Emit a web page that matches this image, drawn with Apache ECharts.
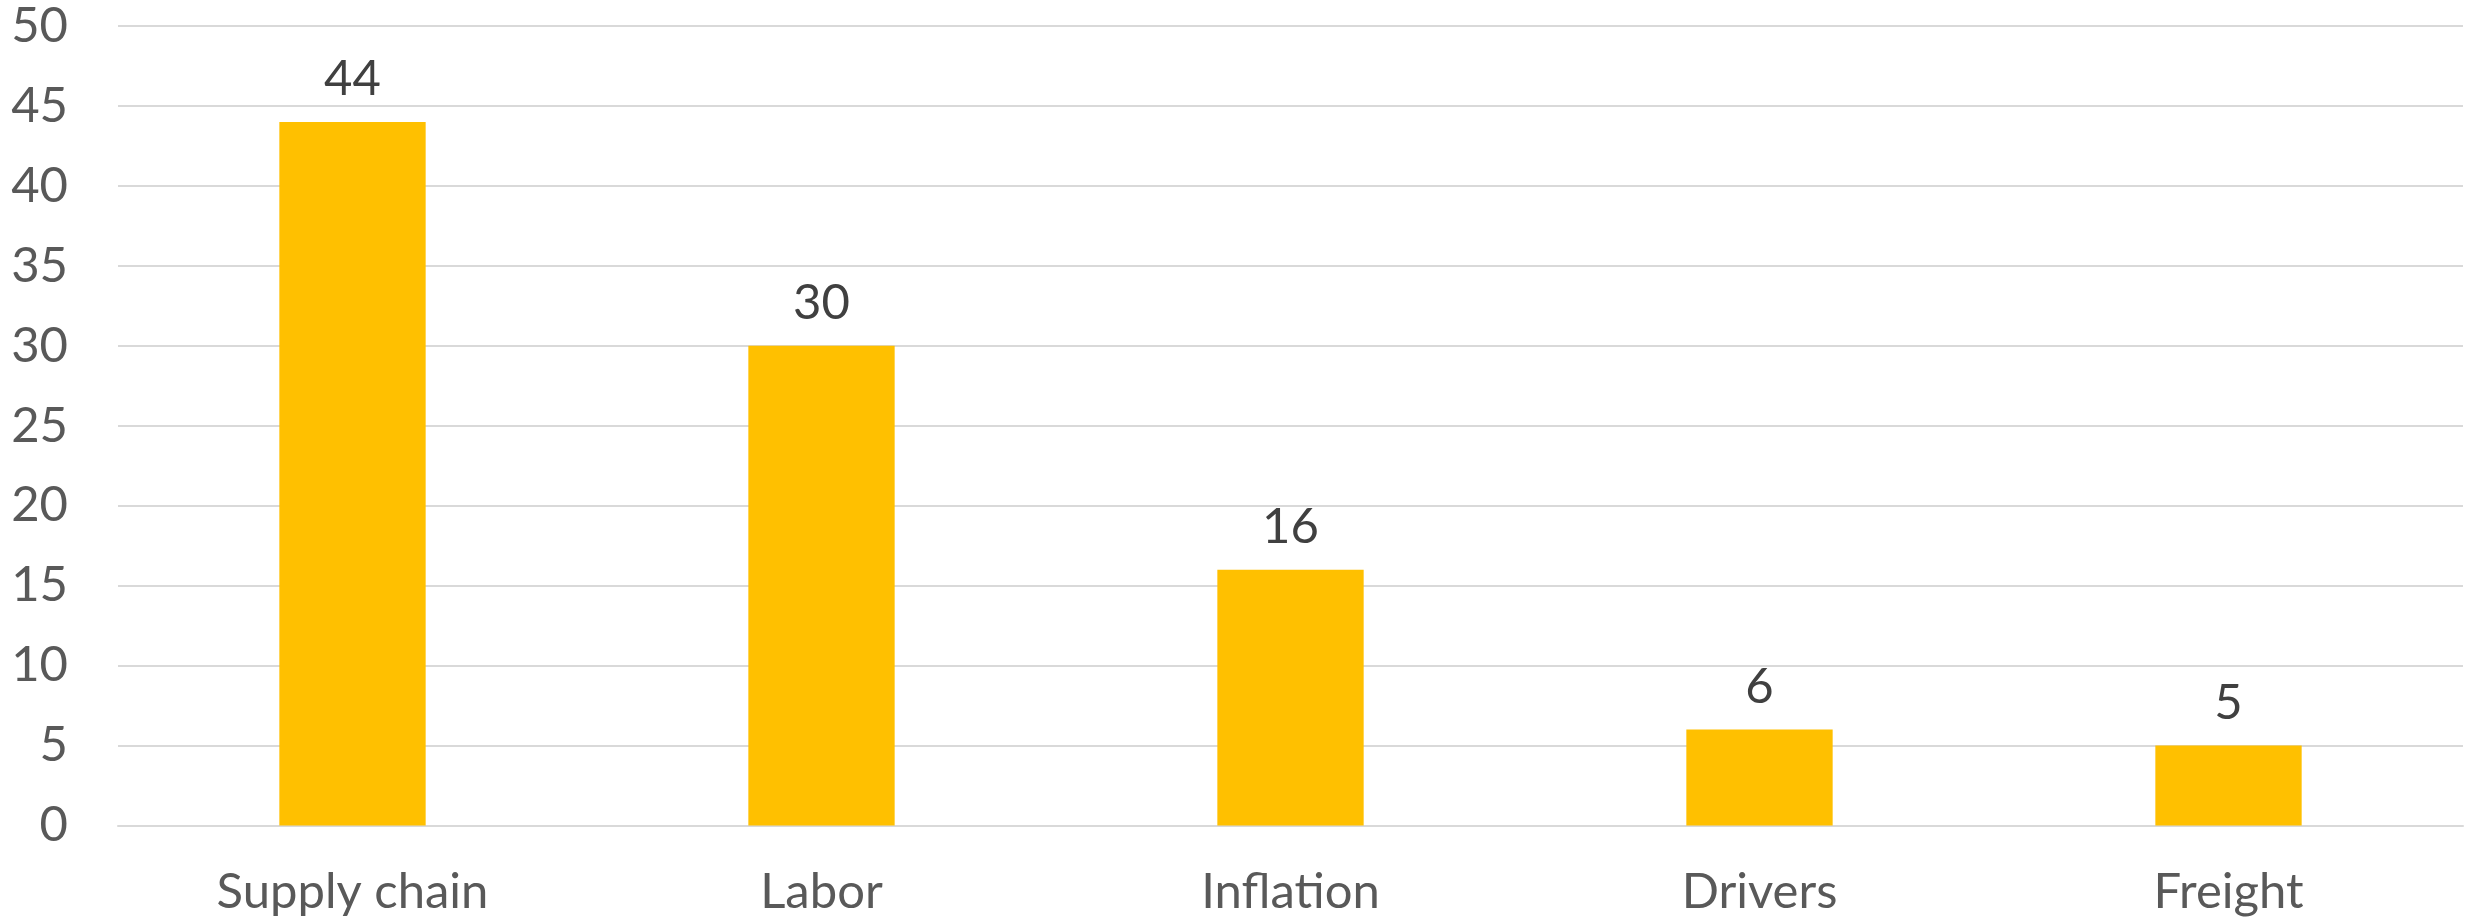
<!DOCTYPE html>
<html><head><meta charset="utf-8">
<script src="https://cdn.jsdelivr.net/npm/echarts@6/dist/echarts.min.js"></script>
<style>html,body{margin:0;padding:0;background:#fff}#c{width:2468px;height:921px}</style>
</head><body><div id="c"></div>
<script>
const categories = ["Supply chain", "Labor", "Inflation", "Drivers", "Freight"];
const values = [44, 30, 16, 6, 5];
const yTicks = [0, 5, 10, 15, 20, 25, 30, 35, 40, 45, 50];

const FONT = "Lato";
const chart = echarts.init(document.getElementById('c'), null, {renderer: 'canvas'});
chart.setOption({
  animation: false,
  backgroundColor: '#ffffff',
  grid: {left: 118, right: 5, top: 26, bottom: 95.5, containLabel: false},
  xAxis: {
    type: 'category', data: categories,
    axisLine: {show: true, lineStyle: {color: '#D9D9D9', width: 2}},
    axisTick: {show: false},
    axisLabel: {color: '#595959', fontFamily: FONT, fontSize: 49, margin: 42}
  },
  yAxis: {
    type: 'value', min: yTicks[0], max: yTicks[yTicks.length-1], interval: 5,
    axisLine: {show: false}, axisTick: {show: false},
    splitLine: {lineStyle: {color: '#D9D9D9', width: 2}},
    axisLabel: {color: '#595959', fontFamily: FONT, fontSize: 49, margin: 50, align: 'right'}
  },
  series: [{
    type: 'bar', data: values, barWidth: '31.2%',
    itemStyle: {color: '#FFC000'},
    label: {show: true, position: 'top', distance: 18, color: '#404040', fontFamily: FONT, fontSize: 49}
  }]
});
</script></body></html>
